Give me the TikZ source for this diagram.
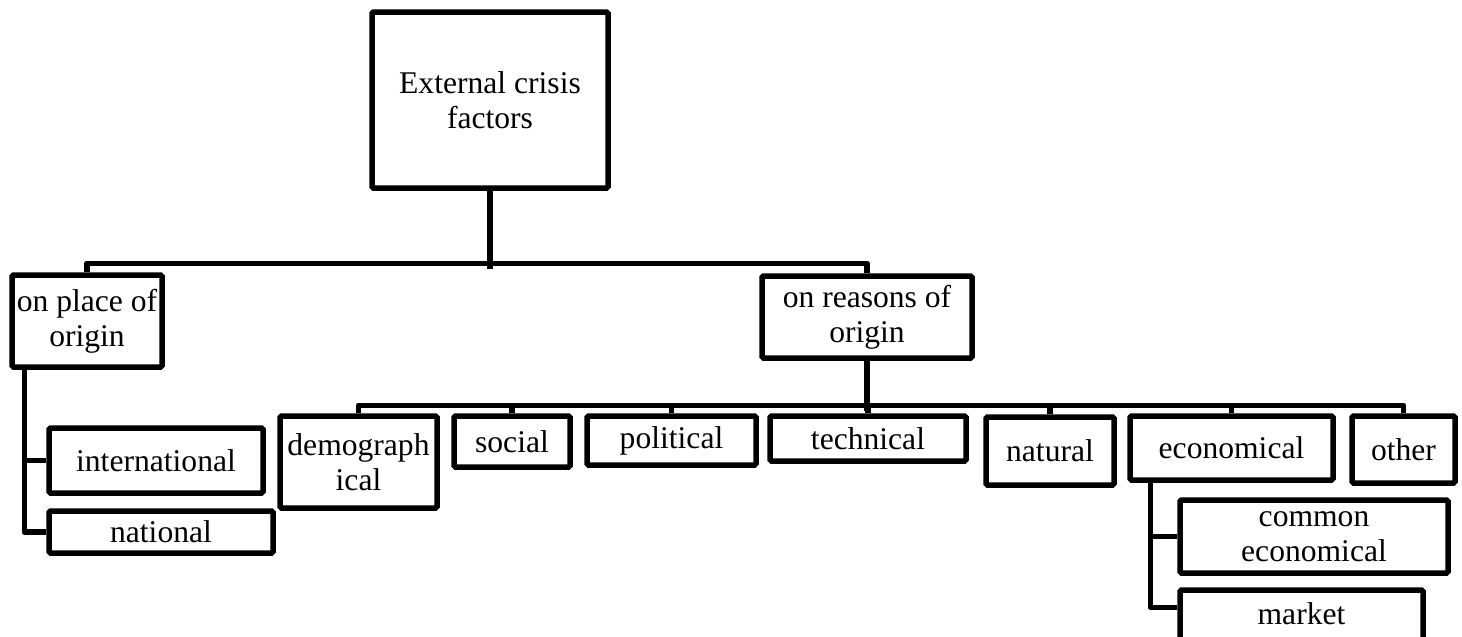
\documentclass[tikz,border=0pt]{standalone}
\usepackage{fontspec}
\setmainfont{Liberation Serif}
\usetikzlibrary{calc}
\begin{document}
\begin{tikzpicture}[x=1pt,y=-1pt,
  box/.style={draw=black, fill=white, line width=5.5pt, rounded corners=1.5pt, inner sep=0pt, align=center,
    font=\fontsize{31.6}{35}\selectfont, text=black},
  link/.style={draw=black, line width=5.5pt, line join=round}]
\fill[white] (0,0) rectangle (1462,637);
\clip (0,0) rectangle (1462,637);
\useasboundingbox (0,0) rectangle (1462,637);

\node[box, minimum width=236pt, minimum height=176pt] (top) at (490,100) {External crisis\\factors};
\node[box, minimum width=150pt, minimum height=92pt] (place) at (87,321) {on place of\\origin};
\node[box, minimum width=210pt, minimum height=82pt] (reasons) at (867,317) {on reasons of\\origin};
\node[box, minimum width=214pt, minimum height=65pt] (intl) at (156,460.5) {international};
\node[box, minimum width=224pt, minimum height=42pt] (national) at (161,532) {national};
\node[box, minimum width=157pt, minimum height=92pt] (demog) at (358.5,462) {demograph\\ical};
\node[box, minimum width=116pt, minimum height=51pt] (social) at (512,441.5) {social};
\node[box, minimum width=169pt, minimum height=49pt] (political) at (671.5,440.5) {political};
\node[box, minimum width=196pt, minimum height=45pt] (technical) at (868,438.5) {technical};
\node[box, minimum width=128pt, minimum height=68pt] (natural) at (1050,451) {natural};
\node[box, minimum width=203pt, minimum height=64pt] (econ) at (1231.5,448) {economical};
\node[box, minimum width=103pt, minimum height=67pt] (other) at (1403.5,449.5) {other};
\node[box, minimum width=268pt, minimum height=73pt] (common) at (1314,536.5) {common\\economical};
\node[box, minimum width=243pt, minimum height=60pt, text height=21pt, text depth=13pt] (market) at (1301.5,620) {market};

% top level
\draw[link] (top.south) -- ++(0,78);
\draw[link] (place.north) -- ++(0,-9) -| (reasons.north);

% place of origin branch
\coordinate (ps) at ($(place.south west)+(15,0)$);
\draw[link] (ps) |- (national.west);
\draw[link] (intl.west) -- (intl.west -| ps);

% reasons of origin branch
\draw[link] (reasons.south) -- ++(0,50);
\draw[link] (demog.north) -- ++(0,-8) -| (other.north);
\foreach \n in {social,political,technical,natural,econ}
  \draw[link] (\n.north) -- ++(0,-8);

% economical branch
\coordinate (es) at ($(econ.south west)+(23,0)$);
\draw[link] (es) |- (common.west);
\draw[link] (es) |- ($(market.north west)+(0,20)$);
\end{tikzpicture}
\end{document}
